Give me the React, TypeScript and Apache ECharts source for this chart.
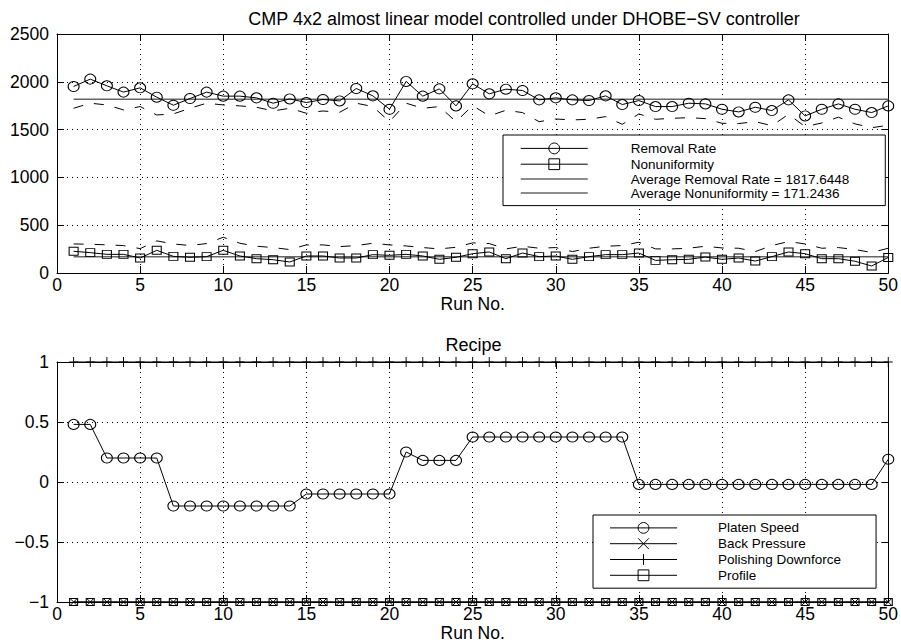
import React, { useEffect, useRef } from 'react';
import * as echarts from 'echarts';

const runs = [1, 2, 3, 4, 5, 6, 7, 8, 9, 10, 11, 12, 13, 14, 15, 16, 17, 18, 19, 20, 21, 22, 23, 24, 25, 26, 27, 28, 29, 30, 31, 32, 33, 34, 35, 36, 37, 38, 39, 40, 41, 42, 43, 44, 45, 46, 47, 48, 49, 50];

const removalRate = [1951, 2028, 1958, 1892, 1937, 1839, 1755, 1825, 1892, 1850, 1850, 1832, 1776, 1821, 1783, 1815, 1800, 1930, 1853, 1713, 2004, 1850, 1926, 1748, 1979, 1874, 1923, 1909, 1811, 1832, 1811, 1804, 1853, 1762, 1804, 1741, 1741, 1776, 1769, 1713, 1685, 1734, 1699, 1811, 1643, 1713, 1769, 1713, 1678, 1748];
const nonuniformity = [227, 213, 195, 195, 157, 237, 174, 164, 171, 237, 178, 150, 139, 115, 178, 178, 157, 157, 192, 185, 195, 178, 143, 164, 202, 220, 150, 209, 171, 178, 143, 171, 192, 192, 209, 132, 139, 143, 167, 143, 157, 125, 171, 220, 202, 150, 150, 123, 73, 163];
const removalRateDashed = [1723, 1776, 1758, 1706, 1741, 1653, 1664, 1723, 1776, 1758, 1748, 1734, 1695, 1723, 1671, 1695, 1681, 1776, 1741, 1583, 1776, 1723, 1741, 1583, 1751, 1643, 1702, 1678, 1583, 1611, 1601, 1608, 1636, 1555, 1664, 1608, 1618, 1625, 1615, 1566, 1563, 1583, 1541, 1660, 1531, 1569, 1630, 1560, 1520, 1545];
const nonuniformityDashed = [304, 301, 294, 287, 255, 336, 304, 287, 308, 374, 311, 280, 266, 245, 294, 294, 276, 287, 311, 294, 283, 266, 252, 269, 315, 308, 252, 280, 259, 266, 224, 259, 280, 287, 322, 252, 252, 259, 280, 262, 259, 224, 287, 329, 304, 259, 266, 245, 215, 259];
const avgRemovalRate = 1817.6448;
const avgNonuniformity = 171.2436;

const platenSpeed = [0.48, 0.48, 0.2, 0.2, 0.2, 0.2, -0.2, -0.2, -0.2, -0.2, -0.2, -0.2, -0.2, -0.2, -0.1, -0.1, -0.1, -0.1, -0.1, -0.1, 0.25, 0.18, 0.18, 0.18, 0.375, 0.375, 0.375, 0.375, 0.375, 0.375, 0.375, 0.375, 0.375, 0.375, -0.02, -0.02, -0.02, -0.02, -0.02, -0.02, -0.02, -0.02, -0.02, -0.02, -0.02, -0.02, -0.02, -0.02, -0.02, 0.19];
const backPressure = [-1, -1, -1, -1, -1, -1, -1, -1, -1, -1, -1, -1, -1, -1, -1, -1, -1, -1, -1, -1, -1, -1, -1, -1, -1, -1, -1, -1, -1, -1, -1, -1, -1, -1, -1, -1, -1, -1, -1, -1, -1, -1, -1, -1, -1, -1, -1, -1, -1, -1];
const polishingDownforce = [1, 1, 1, 1, 1, 1, 1, 1, 1, 1, 1, 1, 1, 1, 1, 1, 1, 1, 1, 1, 1, 1, 1, 1, 1, 1, 1, 1, 1, 1, 1, 1, 1, 1, 1, 1, 1, 1, 1, 1, 1, 1, 1, 1, 1, 1, 1, 1, 1, 1];
const profile = [-1, -1, -1, -1, -1, -1, -1, -1, -1, -1, -1, -1, -1, -1, -1, -1, -1, -1, -1, -1, -1, -1, -1, -1, -1, -1, -1, -1, -1, -1, -1, -1, -1, -1, -1, -1, -1, -1, -1, -1, -1, -1, -1, -1, -1, -1, -1, -1, -1, -1];

const titleTop = 'CMP 4x2 almost linear model controlled under DHOBE\u2212SV controller';
const titleBottom = 'Recipe';
const xName = 'Run No.';
const topLegend = ['Removal Rate', 'Nonuniformity', 'Average Removal Rate = 1817.6448', 'Average Nonuniformity = 171.2436'];
const bottomLegend = ['Platen Speed', 'Back Pressure', 'Polishing Downforce', 'Profile'];

const FONT = '"Liberation Sans", Arial, Helvetica, sans-serif';
const X_SYMBOL = 'path://M0,0L10,10M10,0L0,10';
const PLUS_SYMBOL = 'path://M5,0L5,10M0,5L10,5';
const AVG_COLOR = '#666';
const TICK_FS = 17.5;
const LEGEND_FS = 13.5;

const pairs = (ys: number[]) => runs.map((r, i) => [r, ys[i]]);

const hollow = { color: 'none', borderColor: '#000', borderWidth: 1 };
const invisible = { color: 'none', borderColor: 'none', borderWidth: 0 };
const blackLine = { color: '#000', width: 1 };
const dashedLine = { color: '#000', width: 1, type: [10, 11] };
const avgLine = { color: AVG_COLOR, width: 1.5 };

const axisLine = { show: true, onZero: false, lineStyle: { color: '#000', width: 1 } };
const axisTick = { show: true, inside: true, length: 7, lineStyle: { color: '#000', width: 1 } };
const dotted = { show: true, lineStyle: { color: '#000', width: 1, type: [1, 4] } };
const labelStyle = { color: '#000', fontSize: TICK_FS, fontFamily: FONT };

const minusFmt = (v: number) => (v < 0 ? '\u2212' + String(Math.abs(v)) : String(v));

function xAxesFor(gridIndex: number) {
  return [
    {
      type: 'value', gridIndex, position: 'bottom', min: 0, max: 50, interval: 5,
      axisLine, axisTick,
      axisLabel: { ...labelStyle, margin: 3 },
      splitLine: dotted,
      name: xName, nameLocation: 'middle', nameGap: 22,
      nameTextStyle: { ...labelStyle },
    },
    {
      type: 'value', gridIndex, position: 'top', min: 0, max: 50, interval: 5,
      axisLine, axisTick, axisLabel: { show: false }, splitLine: { show: false },
    },
  ];
}

function yAxesFor(gridIndex: number, min: number, max: number, interval: number) {
  return [
    {
      type: 'value', gridIndex, position: 'left', min, max, interval,
      axisLine, axisTick,
      axisLabel: { ...labelStyle, margin: 8, formatter: minusFmt },
      splitLine: dotted,
    },
    {
      type: 'value', gridIndex, position: 'right', min, max, interval,
      axisLine, axisTick, axisLabel: { show: false }, splitLine: { show: false },
    },
  ];
}

const legendCommon = {
  orient: 'vertical',
  backgroundColor: '#fff',
  borderColor: '#000',
  borderWidth: 1,
  borderRadius: 0,
  itemGap: 0,
  itemWidth: 67,
  itemHeight: 13.5,
  selectedMode: false,
};

export default function App() {
  const ref = useRef<HTMLDivElement>(null);

  useEffect(() => {
    document.body.style.margin = '0';
    if (!ref.current) return;
    const chart = echarts.init(ref.current, null, { renderer: 'svg' });

    const option: any = {
      animation: false,
      textStyle: { fontFamily: FONT, color: '#000' },
      grid: [
        { left: 57, top: 34, width: 833, height: 239, containLabel: false },
        { left: 57, top: 362, width: 833, height: 240, containLabel: false },
      ],
      xAxis: [...xAxesFor(0), ...xAxesFor(1)],
      yAxis: [...yAxesFor(0, 0, 2500, 500), ...yAxesFor(1, -1, 1, 0.5)],
      legend: [
        {
          ...legendCommon,
          left: 503, top: 135,
          padding: [5.5, 36, 5.5, 17],
          textStyle: { color: '#000', fontSize: LEGEND_FS, fontFamily: FONT, lineHeight: 14, padding: [0, 0, 0, 38] },
          data: [
            { name: topLegend[0], itemStyle: hollow, lineStyle: blackLine },
            { name: topLegend[1], itemStyle: hollow, lineStyle: blackLine },
            { name: topLegend[2], itemStyle: invisible, lineStyle: avgLine },
            { name: topLegend[3], itemStyle: invisible, lineStyle: avgLine },
          ],
        },
        {
          ...legendCommon,
          left: 593, top: 515,
          padding: [5, 35, 5, 16.5],
          textStyle: { color: '#000', fontSize: LEGEND_FS, fontFamily: FONT, lineHeight: 14, padding: [0, 0, 0, 36] },
          data: [
            { name: bottomLegend[0], itemStyle: hollow, lineStyle: blackLine },
            { name: bottomLegend[1], itemStyle: hollow, lineStyle: blackLine },
            { name: bottomLegend[2], itemStyle: hollow, lineStyle: blackLine },
            { name: bottomLegend[3], itemStyle: hollow, lineStyle: blackLine },
          ],
        },
      ],
      graphic: [
        {
          type: 'text', x: 524, y: 28,
          style: { text: titleTop, fill: '#000', fontSize: 18, fontFamily: FONT, align: 'center', verticalAlign: 'bottom' },
        },
        {
          type: 'text', x: 473.5, y: 354,
          style: { text: titleBottom, fill: '#000', fontSize: 18, fontFamily: FONT, align: 'center', verticalAlign: 'bottom' },
        },
      ],
      series: [
        {
          type: 'line', name: 'Removal Rate predicted', xAxisIndex: 0, yAxisIndex: 0,
          data: pairs(removalRateDashed), symbol: 'none', lineStyle: dashedLine, silent: true, z: 2,
        },
        {
          type: 'line', name: 'Nonuniformity predicted', xAxisIndex: 0, yAxisIndex: 0,
          data: pairs(nonuniformityDashed), symbol: 'none', lineStyle: dashedLine, silent: true, z: 2,
        },
        {
          type: 'line', name: topLegend[2], xAxisIndex: 0, yAxisIndex: 0,
          data: [[runs[0], avgRemovalRate], [runs[runs.length - 1], avgRemovalRate]],
          symbol: 'none', lineStyle: avgLine, itemStyle: invisible, silent: true, z: 3,
        },
        {
          type: 'line', name: topLegend[3], xAxisIndex: 0, yAxisIndex: 0,
          data: [[runs[0], avgNonuniformity], [runs[runs.length - 1], avgNonuniformity]],
          symbol: 'none', lineStyle: avgLine, itemStyle: invisible, silent: true, z: 3,
        },
        {
          type: 'line', name: topLegend[0], xAxisIndex: 0, yAxisIndex: 0,
          data: pairs(removalRate), symbol: 'circle', symbolSize: [11, 10],
          lineStyle: blackLine, itemStyle: hollow, silent: true, z: 4,
        },
        {
          type: 'line', name: topLegend[1], xAxisIndex: 0, yAxisIndex: 0,
          data: pairs(nonuniformity), symbol: 'rect', symbolSize: [9, 8],
          lineStyle: blackLine, itemStyle: hollow, silent: true, z: 4,
        },
        {
          type: 'line', name: bottomLegend[0], xAxisIndex: 2, yAxisIndex: 2,
          data: pairs(platenSpeed), symbol: 'circle', symbolSize: [11, 10],
          lineStyle: blackLine, itemStyle: hollow, silent: true, z: 4, clip: false,
        },
        {
          type: 'line', name: bottomLegend[1], xAxisIndex: 2, yAxisIndex: 2,
          data: pairs(backPressure), symbol: X_SYMBOL, symbolSize: [7, 7],
          lineStyle: blackLine, itemStyle: hollow, silent: true, z: 4, clip: false,
        },
        {
          type: 'line', name: bottomLegend[2], xAxisIndex: 2, yAxisIndex: 2,
          data: pairs(polishingDownforce), symbol: PLUS_SYMBOL, symbolSize: [9, 10],
          lineStyle: blackLine, itemStyle: hollow, silent: true, z: 4, clip: false,
        },
        {
          type: 'line', name: bottomLegend[3], xAxisIndex: 2, yAxisIndex: 2,
          data: pairs(profile), symbol: 'rect', symbolSize: [8, 7],
          lineStyle: blackLine, itemStyle: hollow, silent: true, z: 4, clip: false,
        },
      ],
    };

    chart.setOption(option);
    return () => chart.dispose();
  }, []);

  return <div ref={ref} style={{ width: 901, height: 644 }} />;
}
